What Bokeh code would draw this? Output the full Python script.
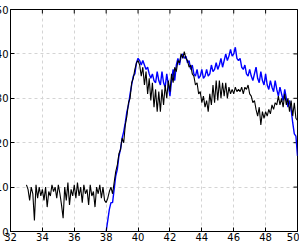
import math
from bokeh.plotting import figure
from bokeh.models import LinearAxis, FixedTicker, Range1d, GlobalInlineStyleSheet
from bokeh.embed import file_html
from bokeh.resources import INLINE

black_x = [round(33.0 + 0.1 * i, 1) for i in range(171)]
black_y = [
    10.5, 9.5, 7.0, 10.0, 8.5, 2.5, 10.5, 7.5, 10.0, 8.0,
    9.5, 7.0, 10.0, 5.5, 9.0, 8.0, 10.5, 9.0, 10.0, 7.5,
    10.5, 8.5, 6.0, 3.0, 10.0, 7.0, 11.0, 6.0, 9.5, 8.0,
    10.5, 7.5, 11.0, 8.0, 10.0, 6.5, 10.5, 8.5, 9.5, 6.0,
    10.5, 8.0, 9.0, 5.5, 10.0, 8.5, 10.5, 7.5, 10.0, 7.0,
    6.5, 7.5, 9.0, 10.0, 8.5, 11.0, 13.5, 15.0, 17.5, 18.5,
    21.0, 20.0, 24.0, 26.0, 29.0, 30.0, 33.5, 34.5, 36.5, 38.0,
    38.5, 37.5, 35.0, 37.0, 33.0, 36.0, 31.0, 34.5, 29.5, 33.5,
    28.0, 32.0, 27.0, 31.5, 27.0, 32.0, 28.5, 33.0, 30.0, 34.0,
    31.5, 35.5, 33.5, 37.0, 36.0, 38.5, 38.0, 40.0, 39.0, 40.5,
    39.0, 38.5, 37.0, 37.5, 35.5, 35.0, 33.0, 33.5, 31.0, 31.5,
    29.0, 30.5, 28.0, 29.5, 27.0, 31.0, 28.5, 33.0, 29.0, 34.0,
    29.5, 34.0, 30.0, 33.5, 30.5, 33.5, 30.0, 32.5, 31.0, 32.0,
    31.0, 32.5, 31.5, 32.0, 31.5, 32.5, 31.0, 32.5, 32.0, 33.0,
    31.0, 30.5, 29.0, 29.5, 27.5, 26.0, 28.0, 24.0, 27.0, 25.5,
    27.0, 26.0, 27.5, 26.5, 28.5, 27.5, 29.0, 28.5, 30.5, 28.5,
    30.0, 28.0, 31.0, 28.5, 30.0, 27.0, 29.5, 26.0, 29.0, 25.5,
    25.0,
]

blue_x = [round(38.0 + 0.1 * i, 1) for i in range(121)]
blue_y = [
    0.0, 2.5, 5.0, 6.5, 6.5, 9.5, 12.5, 14.0, 17.0, 18.5,
    21.0, 22.5, 24.5, 27.0, 28.5, 31.0, 33.0, 35.0, 35.5, 38.0,
    39.0, 38.5, 37.5, 38.5, 37.5, 36.5, 37.0, 35.5, 34.5, 35.5,
    34.0, 33.5, 36.0, 34.0, 33.0, 36.0, 33.5, 32.5, 35.5, 33.0,
    30.5, 34.0, 36.5, 34.0, 37.5, 39.0, 37.5, 39.5, 40.0, 39.0,
    39.5, 38.0, 38.5, 36.5, 37.5, 35.5, 35.0, 36.5, 34.5, 35.0,
    36.5, 34.5, 35.0, 36.5, 35.0, 35.5, 37.5, 36.0, 36.5, 38.0,
    36.5, 37.5, 39.0, 37.0, 38.5, 40.0, 38.5, 39.5, 41.0, 39.5,
    40.0, 41.5, 39.0, 38.5, 39.0, 37.0, 36.5, 37.5, 35.5, 35.0,
    36.5, 35.0, 34.0, 35.5, 37.0, 34.5, 33.5, 36.0, 34.0, 33.0,
    35.5, 33.0, 32.0, 34.0, 32.5, 31.5, 34.0, 32.0, 30.5, 32.5,
    31.0, 29.5, 32.0, 30.0, 28.0, 29.5, 27.5, 24.5, 22.0, 21.5,
    17.0,
]

x_ticks = [32, 34, 36, 38, 40, 42, 44, 46, 48, 50]
y_ticks = [0, 10, 20, 30, 40, 50]

p = figure(
    width=307, height=243,
    output_backend="svg", toolbar_location=None,
    x_range=Range1d(32, 50), y_range=Range1d(0, 50),
    x_axis_location=None, y_axis_location=None,
    min_border_left=0, min_border_right=2, min_border_top=9, min_border_bottom=0,
    styles={"margin": "0px -16px -8px -8px"},
    stylesheets=[GlobalInlineStyleSheet(css="html, body { overflow: hidden; }")],
)
p.background_fill_color = "white"
p.border_fill_color = "white"
p.outline_line_color = "black"
p.outline_line_width = 1

font = "DejaVu Sans"


def style_axis(ax, ticks):
    ax.ticker = FixedTicker(ticks=ticks)
    ax.axis_line_color = "black"
    ax.major_tick_in = 4
    ax.major_tick_out = 0
    ax.minor_tick_in = 0
    ax.minor_tick_out = 0
    ax.major_tick_line_color = "black"
    ax.major_label_text_font = font
    ax.major_label_text_color = "black"
    ax.major_label_text_font_size = "10px"
    ax.major_label_standoff = 1


xb = LinearAxis()
style_axis(xb, x_ticks)
xb.major_label_standoff = 1
p.add_layout(xb, "below")
yl = LinearAxis()
style_axis(yl, y_ticks)
yl.major_label_standoff = 2
p.add_layout(yl, "left")

# inward tick marks on top and right frame edges
p.scatter(x_ticks, [50] * len(x_ticks), marker="dash", size=8,
          angle=math.pi / 2, line_color="black", line_width=1)
p.scatter([50] * len(y_ticks), y_ticks, marker="dash", size=8,
          line_color="black", line_width=1)

p.xgrid.ticker = FixedTicker(ticks=x_ticks)
p.ygrid.ticker = FixedTicker(ticks=y_ticks)
for g in (p.xgrid, p.ygrid):
    g.grid_line_color = "#d4d4d4"
    g.grid_line_dash = "3 3"
    g.grid_line_width = 1

p.line(blue_x, blue_y, line_color="blue", line_width=1.4)
p.line(black_x, black_y, line_color="black", line_width=1.1)

open("out.html", "w").write(file_html(p, INLINE))
